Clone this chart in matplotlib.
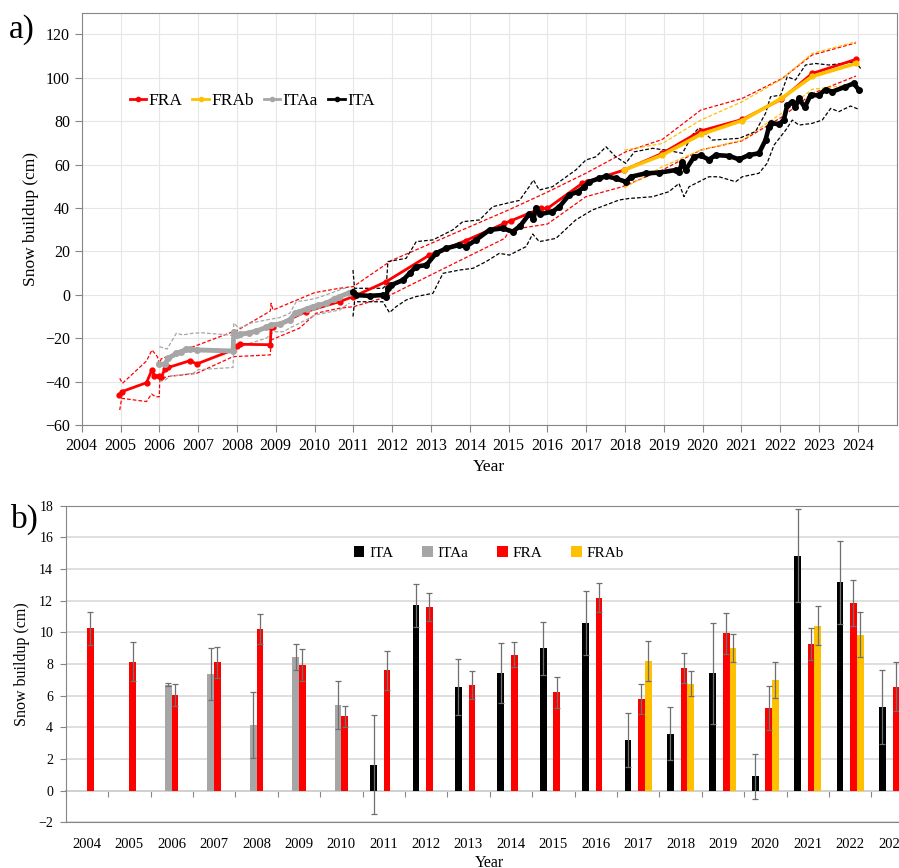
import numpy as np
import matplotlib as mpl
import matplotlib.pyplot as plt

mpl.rcParams["font.family"] = "serif"
mpl.rcParams["font.serif"] = ["Liberation Serif", "DejaVu Serif"]

# ---------- panel a: cumulative snow buildup ----------
fra_x = [2004.96, 2005.04, 2005.67, 2005.81, 2005.87, 2006.0, 2006.05, 2006.14, 2006.23,
         2006.80, 2006.96, 2007.90, 2008.0, 2008.07, 2008.86, 2008.88, 2008.93, 2009.79,
         2010.65, 2010.99, 2011.84, 2012.96, 2013.9, 2014.89, 2015.06, 2015.83, 2016.0,
         2016.9, 2017.03, 2017.98, 2018.96, 2019.95, 2021.02, 2022.03, 2022.82, 2023.95]
fra_y = [-46.2, -44.6, -40.5, -34.6, -37.4, -37.4, -38.0, -34.3, -33.5,
         -30.3, -31.9, -25.4, -23.4, -22.8, -23.0, -15.0, -14.7, -7.7,
         -3.1, -0.9, 6.0, 18.3, 25.0, 32.9, 34.1, 39.8, 39.8,
         51.4, 52.1, 57.5, 65.2, 75.5, 80.8, 90.1, 102.0, 108.5]
fra_hi_x = [2004.98, 2005.05, 2005.67, 2005.81, 2005.95, 2006.0, 2006.05, 2007.9, 2008.0,
            2008.86, 2008.88, 2008.93, 2010.0, 2010.64, 2011.0, 2011.98, 2015.0, 2015.96,
            2016.99, 2018.02, 2018.96, 2019.95, 2021.02, 2022.05, 2022.82, 2023.95]
fra_hi_y = [-38.5, -40.8, -30.5, -25.4, -28.5, -31.6, -29.5, -17.0, -16.5,
            -7.5, -3.9, -7.0, 1.0, 3.0, 3.8, 15.8, 39.1, 47.0,
            56.0, 65.9, 71.6, 85.1, 90.5, 99.7, 110.5, 116.1]
fra_lo_x = [2004.98, 2005.03, 2005.67, 2005.8, 2005.9, 2006.0, 2006.01, 2006.2, 2006.96,
            2007.9, 2008.86, 2008.88, 2009.61, 2010.04, 2010.64, 2011.0, 2011.85, 2012.19,
            2014.9, 2015.03, 2016.0, 2016.99, 2017.93, 2018.96, 2019.95, 2021.02, 2022.05,
            2022.83, 2023.95]
fra_lo_y = [-53.1, -47.7, -49.2, -45.7, -47.0, -47.0, -39.2, -37.7, -36.2,
            -28.5, -27.7, -20.8, -15.4, -8.5, -6.2, -5.5, -1.0, 2.0,
            26.0, 29.9, 32.6, 45.2, 49.8, 57.5, 66.7, 71.0, 82.0,
            92.8, 100.8]

frab_x = [2017.98, 2018.96, 2019.95, 2021.02, 2022.03, 2022.82, 2023.95]
frab_y = [57.5, 64.4, 73.9, 80.3, 90.5, 100.6, 106.6]
frab_hi_y = [66.7, 69.7, 80.5, 89.0, 99.3, 111.2, 116.6]
frab_lo_y = [49.3, 59.0, 66.7, 71.3, 83.6, 94.7, 97.0]

itaa_x = [2006.0, 2006.14, 2006.23, 2006.44, 2006.57, 2006.7, 2006.78, 2006.96, 2007.90,
          2007.92, 2008.0, 2008.07, 2008.3, 2008.5, 2008.76, 2008.88, 2009.1, 2009.36,
          2009.5, 2009.61, 2009.8, 2009.96, 2010.1, 2010.3, 2010.5, 2010.64, 2010.9]
itaa_y = [-32.0, -32.0, -29.3, -27.0, -26.2, -25.0, -25.1, -25.4, -25.9,
          -17.0, -18.5, -18.2, -17.6, -16.7, -15.0, -13.9, -13.5, -11.6,
          -8.5, -7.8, -6.5, -5.5, -4.8, -3.9, -2.0, -0.9, 1.0]
itaa_hi_x = [2006.0, 2006.2, 2006.44, 2006.6, 2006.87, 2007.1, 2007.9, 2007.92, 2008.05,
             2008.33, 2008.76, 2009.1, 2009.36, 2009.53, 2009.8, 2010.04, 2010.3, 2010.64,
             2010.9]
itaa_hi_y = [-23.9, -25.0, -17.7, -18.5, -17.7, -17.5, -18.7, -13.0, -15.5,
             -13.1, -11.6, -10.5, -8.5, -3.1, -2.5, -1.6, 0.0, 2.2,
             3.8]
itaa_lo_x = [2006.0, 2006.15, 2006.3, 2006.87, 2007.0, 2007.9, 2007.92, 2008.07, 2008.76,
             2008.95, 2009.2, 2009.36, 2009.61, 2010.04, 2010.64, 2010.9]
itaa_lo_y = [-40.0, -39.2, -37.4, -36.2, -34.5, -33.5, -23.1, -23.8, -20.0,
             -17.0, -17.0, -15.3, -13.1, -9.2, -7.0, -3.8]

ita_x = [2010.99, 2011.07, 2011.42, 2011.76, 2011.85, 2011.89, 2011.98, 2012.28, 2012.45,
         2012.62, 2012.88, 2013.13, 2013.39, 2013.73, 2013.9, 2014.16, 2014.51, 2014.85,
         2015.11, 2015.3, 2015.53, 2015.64, 2015.71, 2015.81, 2016.13, 2016.31, 2016.56,
         2016.78, 2016.95, 2017.08, 2017.33, 2017.51, 2017.76, 2018.02, 2018.15, 2018.54,
         2018.88, 2019.31, 2019.39, 2019.48, 2019.56, 2019.78, 2019.95, 2020.16, 2020.34,
         2020.68, 2020.94, 2021.19, 2021.45, 2021.62, 2021.71, 2021.75, 2021.97, 2022.09,
         2022.18, 2022.31, 2022.39, 2022.48, 2022.63, 2022.78, 2022.99, 2023.17, 2023.34,
         2023.68, 2023.89, 2024.02]
ita_y = [1.5, -0.1, -0.5, -0.1, -0.9, 3.0, 4.5, 6.8, 9.9,
         13.0, 13.7, 19.1, 21.4, 23.0, 22.2, 25.3, 29.9, 30.6,
         29.1, 31.8, 37.2, 35.0, 40.2, 37.2, 38.3, 40.6, 46.0,
         47.5, 49.8, 52.1, 53.6, 54.7, 53.6, 52.1, 54.4, 56.0,
         56.3, 57.5, 56.7, 61.3, 57.5, 63.6, 64.2, 62.3, 64.4,
         64.0, 62.4, 64.4, 65.2, 71.3, 77.5, 79.0, 78.7, 80.5,
         87.4, 89.0, 86.7, 90.5, 86.4, 92.0, 92.0, 94.6, 93.6,
         95.9, 97.4, 94.6]
ita_hi_x = [2010.99, 2011.03, 2011.76, 2011.85, 2011.89, 2012.36, 2012.62, 2013.05, 2013.56,
            2013.82, 2014.25, 2014.59, 2014.93, 2015.28, 2015.53, 2015.64, 2015.79, 2016.13,
            2016.73, 2016.99, 2017.25, 2017.51, 2017.76, 2018.02, 2018.24, 2018.71, 2019.05,
            2019.48, 2019.73, 2019.91, 2020.25, 2020.94, 2021.36, 2021.62, 2021.75, 2022.01,
            2022.18, 2022.39, 2022.65, 2022.91, 2023.25, 2023.6, 2023.94, 2024.07]
ita_hi_y = [11.4, 3.0, 3.0, 4.5, 15.3, 16.8, 24.5, 25.3, 29.9,
            33.7, 34.5, 40.6, 42.1, 43.5, 49.8, 52.9, 48.3, 49.8,
            57.5, 62.1, 63.6, 68.2, 63.6, 60.6, 65.9, 67.5, 66.7,
            65.2, 73.6, 77.0, 71.3, 72.1, 75.2, 83.6, 91.3, 92.0,
            100.5, 99.0, 105.9, 106.6, 105.9, 106.6, 107.4, 104.3]
ita_lo_x = [2010.99, 2011.03, 2011.76, 2011.93, 2012.1, 2012.36, 2012.62, 2013.05, 2013.31,
            2013.73, 2014.08, 2014.42, 2014.76, 2015.02, 2015.45, 2015.62, 2015.79, 2016.22,
            2016.73, 2017.16, 2017.51, 2017.85, 2018.11, 2018.71, 2019.13, 2019.39, 2019.52,
            2019.65, 2020.16, 2020.42, 2020.85, 2021.02, 2021.45, 2021.66, 2021.84, 2022.14,
            2022.31, 2022.48, 2022.82, 2023.08, 2023.3, 2023.51, 2023.81, 2024.02]
ita_lo_y = [-10.0, -3.2, -3.2, -8.2, -5.5, -2.4, -0.8, 0.7, 9.9,
            11.4, 12.2, 15.3, 19.1, 18.3, 22.2, 28.0, 24.5, 26.0,
            34.5, 39.1, 41.4, 43.7, 44.4, 45.2, 47.5, 51.3, 45.2,
            49.8, 54.4, 54.4, 52.1, 54.4, 56.0, 60.6, 69.0, 75.9,
            80.5, 78.2, 79.0, 80.5, 85.9, 84.4, 87.0, 85.5]

# ---------- panel b: yearly snow buildup ----------
bar_years = list(range(2004, 2024))
nan = np.nan
ita_bar = [nan, nan, nan, nan, nan, nan, nan, 1.65, 11.7, 6.55,
           7.45, 9.0, 10.6, 3.2, 3.6, 7.4, 0.9, 14.85, 13.15, 5.3]
ita_err = [nan, nan, nan, nan, nan, nan, nan, 3.1, 1.35, 1.77,
           1.9, 1.68, 2.0, 1.7, 1.66, 3.2, 1.4, 2.95, 2.6, 2.33]
itaa_bar = [nan, nan, 6.7, 7.35, 4.15, 8.45, 5.4, nan, nan, nan,
            nan, nan, nan, nan, nan, nan, nan, nan, nan, nan]
itaa_err = [nan, nan, 0.12, 1.65, 2.1, 0.8, 1.5, nan, nan, nan,
            nan, nan, nan, nan, nan, nan, nan, nan, nan, nan]
fra_bar = [10.25, 8.15, 6.05, 8.1, 10.2, 7.95, 4.7, 7.6, 11.6, 6.65,
           8.58, 6.2, 12.2, 5.8, 7.76, 9.95, 5.22, 9.27, 11.86, 6.56]
fra_err = [1.05, 1.25, 0.68, 1.0, 0.95, 1.0, 0.65, 1.25, 0.88, 0.88,
           0.8, 1.0, 0.9, 0.93, 0.93, 1.3, 1.4, 1.0, 1.43, 1.56]
frab_bar = [nan, nan, nan, nan, nan, nan, nan, nan, nan, nan,
            nan, nan, nan, 8.18, 6.75, 9.02, 6.98, 10.43, 9.86, nan]
frab_err = [nan, nan, nan, nan, nan, nan, nan, nan, nan, nan,
            nan, nan, nan, 1.26, 0.8, 0.9, 1.14, 1.22, 1.41, nan]

RED = "#FF0000"
GOLD = "#FFC000"
GREY = "#A6A6A6"
BLACK = "#000000"
FRAME = "#868686"
GRID = "#E6E6E6"

fig = plt.figure(figsize=(8.99, 8.68), dpi=100)

# ----- panel a -----
ax = fig.add_axes([81.7 / 899, 1 - 425 / 868, 815 / 899, 412.3 / 868])
dash = (0, (3, 1.6))
for xs, ys, c in [(fra_hi_x, fra_hi_y, RED), (fra_lo_x, fra_lo_y, RED),
                  (frab_x, frab_hi_y, GOLD), (frab_x, frab_lo_y, GOLD),
                  (itaa_hi_x, itaa_hi_y, GREY), (itaa_lo_x, itaa_lo_y, GREY),
                  (ita_hi_x, ita_hi_y, BLACK), (ita_lo_x, ita_lo_y, BLACK)]:
    ax.plot(xs, ys, linestyle=dash, color=c, linewidth=0.9)

ax.plot(fra_x, fra_y, "-o", color=RED, linewidth=2, markersize=3.5, label="FRA")
ax.plot(frab_x, frab_y, "-o", color=GOLD, linewidth=2.6, markersize=3.5, label="FRAb")
ax.plot(itaa_x, itaa_y, "-o", color=GREY, linewidth=3.5, markersize=4, label="ITAa")
ax.plot(ita_x, ita_y, "-o", color=BLACK, linewidth=3.3, markersize=4, label="ITA")

ax.set_xlim(2004, 2025)
ax.set_ylim(-60, 130)
ax.set_xticks(range(2004, 2025))
ax.set_yticks(range(-60, 121, 20))
ax.tick_params(axis="both", labelsize=11.5, color=FRAME, length=5)
ax.tick_params(axis="x", pad=4)
ax.grid(True, color=GRID, linewidth=0.8)
ax.set_axisbelow(True)
for s in ax.spines.values():
    s.set_color(FRAME)
ax.set_xlabel("Year", fontsize=12.5, labelpad=4)
ax.set_ylabel("Snow buildup (cm)", fontsize=12.5, labelpad=4)
leg = ax.legend(loc="center", bbox_to_anchor=(0.209, 0.786), ncol=4, frameon=False,
                fontsize=12.5, handlelength=0.95, handletextpad=0.12, columnspacing=0.6)
for h in leg.legend_handles:
    h.set_linewidth(2)
    h.set_markersize(3)

# ----- panel b -----
bx = fig.add_axes([65.7 / 899, 1 - 822.3 / 868, 848 / 899, 316.6 / 868])
pos = np.arange(len(bar_years))
w = 0.16
series = [("ITA", ita_bar, ita_err, BLACK, -1.5),
          ("ITAa", itaa_bar, itaa_err, GREY, -0.5),
          ("FRA", fra_bar, fra_err, RED, 0.5),
          ("FRAb", frab_bar, frab_err, GOLD, 1.5)]
for name, vals, errs, c, k in series:
    vals = np.array(vals)
    errs = np.array(errs)
    ok = ~np.isnan(vals)
    bx.bar(pos[ok] + k * w, vals[ok], w, yerr=errs[ok], color=c, label=name,
           error_kw=dict(ecolor="#6f6f6f", elinewidth=0.9, capsize=2, capthick=0.9))

bx.set_xlim(-0.5, len(bar_years) - 0.5)
bx.set_ylim(-2, 18)
bx.set_yticks(range(-2, 19, 2))
bx.set_xticks(pos)
bx.set_xticklabels([str(y) for y in bar_years])
bx.tick_params(axis="x", length=0, pad=11, labelsize=10.5)
bx.tick_params(axis="y", labelsize=10, color=FRAME, length=4, pad=5)
bx.yaxis.grid(True, color="#D9D9D9", linewidth=1.2)
bx.set_axisbelow(True)
for s in bx.spines.values():
    s.set_color(FRAME)
bx.spines["right"].set_visible(False)

# category axis crossing at zero
zero = bx.secondary_xaxis(2 / 20)
zero.set_xticks(np.arange(-0.5, len(bar_years), 1.0))
zero.tick_params(axis="x", length=4, color=FRAME, labelbottom=False)
zero.spines["bottom"].set_color("#9A9A9A")
zero.spines["bottom"].set_linewidth(1.2)

bx.set_xlabel("Year", fontsize=11.5, labelpad=3)
bx.set_ylabel("Snow buildup (cm)", fontsize=11.5, labelpad=6)
bx.legend(loc="center", bbox_to_anchor=(0.499, 0.851), ncol=4, frameon=False,
          fontsize=11, handlelength=0.7, handleheight=0.7, handletextpad=0.3,
          columnspacing=1.9)

fig.text(0.010, 0.984, "a)", fontsize=24, va="top", ha="left")
fig.text(0.012, 0.420, "b)", fontsize=24, va="top", ha="left")

fig.savefig("out.png", dpi=100)
